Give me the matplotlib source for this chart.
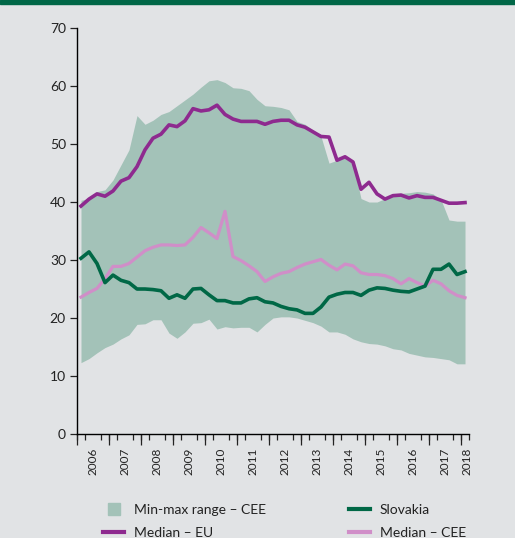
import matplotlib
matplotlib.use("Agg")
import matplotlib.pyplot as plt
from matplotlib.lines import Line2D
from matplotlib.patches import Rectangle
import numpy as np

plt.rcParams['font.family'] = ['Lato', 'DejaVu Sans']

# Quarterly data 2006Q1 .. 2018Q1
quarters = np.arange(49)
years = list(range(2006, 2019))

cee_max = [40.3, 40.6, 41.8, 42.1, 43.8, 46.4, 49.0, 54.9, 53.4, 54.1, 55.1, 55.6, 56.6,
           57.6, 58.6, 59.8, 60.9, 61.1, 60.6, 59.7, 59.6, 59.2, 57.7, 56.6, 56.5,
           56.3, 55.9, 53.9, 53.4, 52.4, 51.3, 46.7, 47.2, 47.8, 46.7, 40.6, 40.0,
           40.0, 40.6, 41.4, 41.5, 41.6, 41.8, 41.7, 41.4, 40.4, 36.9, 36.7, 36.7]
cee_min = [12.3, 13.0, 14.0, 14.9, 15.5, 16.4, 17.1, 18.9, 19.0, 19.7, 19.7, 17.4, 16.5,
           17.6, 19.1, 19.2, 19.8, 18.1, 18.5, 18.3, 18.4, 18.4, 17.6, 18.9, 20.0,
           20.2, 20.2, 20.0, 19.6, 19.2, 18.6, 17.6, 17.6, 17.2, 16.4, 15.9, 15.6,
           15.5, 15.2, 14.7, 14.5, 13.9, 13.6, 13.3, 13.2, 13.0, 12.8, 12.1, 12.1]
median_eu = [39.3, 40.5, 41.4, 41.0, 41.9, 43.6, 44.2, 46.1, 49.0, 51.0, 51.7, 53.3, 53.0,
             54.0, 56.1, 55.7, 55.9, 56.7, 55.1, 54.3, 53.9, 53.9, 53.9, 53.4, 53.9,
             54.1, 54.1, 53.3, 52.9, 52.1, 51.3, 51.2, 47.2, 47.8, 46.9, 42.2, 43.4,
             41.4, 40.5, 41.1, 41.2, 40.7, 41.1, 40.8, 40.8, 40.3, 39.8, 39.8, 39.9]
slovakia = [30.3, 31.4, 29.4, 26.1, 27.4, 26.5, 26.1, 25.0, 25.0, 24.9, 24.7, 23.4, 24.0,
            23.4, 25.0, 25.1, 24.0, 23.0, 23.0, 22.6, 22.6, 23.3, 23.5, 22.8, 22.6,
            22.0, 21.6, 21.4, 20.8, 20.8, 21.9, 23.6, 24.1, 24.4, 24.4, 23.9, 24.8,
            25.2, 25.1, 24.8, 24.6, 24.5, 25.0, 25.5, 28.4, 28.4, 29.3, 27.5, 28.0]
median_cee = [23.6, 24.4, 25.1, 26.8, 28.9, 28.9, 29.4, 30.5, 31.6, 32.2, 32.6, 32.6, 32.5,
              32.6, 33.9, 35.6, 34.7, 33.7, 38.4, 30.6, 29.9, 29.0, 28.0, 26.3, 27.1,
              27.7, 28.0, 28.7, 29.3, 29.7, 30.1, 29.1, 28.3, 29.3, 29.0, 27.8, 27.5,
              27.5, 27.3, 26.8, 25.9, 26.8, 26.1, 25.5, 26.5, 25.9, 24.7, 23.9, 23.5]

labels = ["Min-max range \u2013 CEE", "Median \u2013 EU", "Slovakia", "Median \u2013 CEE"]

BG = '#e1e3e5'
BAND = '#a3c2b8'
PURPLE = '#8e2a8f'
GREEN = '#006846'
PINK = '#d08ec8'

fig = plt.figure(figsize=(5.15, 5.38), dpi=100, facecolor=BG)
ax = fig.add_axes([0.1495, 0.1933, 0.7612, 0.7546])
ax.set_facecolor(BG)

ax.fill_between(quarters, cee_min, cee_max, color=BAND, linewidth=0, zorder=1)
ax.plot(quarters, median_eu, color=PURPLE, lw=2.6, zorder=3, solid_joinstyle='round')
ax.plot(quarters, slovakia, color=GREEN, lw=2.6, zorder=3, solid_joinstyle='round')
ax.plot(quarters, median_cee, color=PINK, lw=2.3, zorder=2, solid_joinstyle='round')

ax.set_xlim(-0.5, 48.5)
ax.set_ylim(0, 70)
for s in ['top', 'right']:
    ax.spines[s].set_visible(False)
ax.spines['left'].set_linewidth(1.0)
ax.spines['bottom'].set_linewidth(1.0)

ax.set_yticks(np.arange(0, 71, 10))
ax.tick_params(axis='y', direction='out', length=5, width=0.9, labelsize=10, pad=3,
               colors='#222222')

# year labels at year midpoints
label_pos = [1.5 + 4 * k for k in range(12)] + [48.3]
ax.set_xticks(label_pos)
ax.set_xticklabels([str(y) for y in years], rotation=90, fontsize=8.5, color='#222222')
ax.tick_params(axis='x', which='major', length=0, pad=10)
ax.set_xticks(np.arange(-0.5, 48.6, 1.0), minor=True)
ax.tick_params(axis='x', which='minor', direction='out', length=4.5, width=0.9, color='#222222')

sec = ax.secondary_xaxis('bottom')
sec.set_xticks(np.arange(-0.5, 48, 4.0))
sec.set_xticklabels([])
sec.tick_params(direction='out', length=8, width=0.9, color='#222222')
sec.spines['bottom'].set_visible(False)

# top bar
fig.patches.append(Rectangle((0, 1 - 4 / 538), 1, 4 / 538, transform=fig.transFigure,
                             color='#006747', zorder=5))

handles = [Line2D([], [], marker='s', ms=8, ls='none', color=BAND),
           Line2D([], [], color=PURPLE, lw=3),
           Line2D([], [], color=GREEN, lw=3),
           Line2D([], [], color=PINK, lw=3)]
fig.legend(handles, labels, loc='lower left', bbox_to_anchor=(0.179, -0.022), ncol=2,
           frameon=False, fontsize=10, handlelength=1.5, handletextpad=0.7,
           columnspacing=6.0, labelspacing=0.78, borderpad=0.3, labelcolor='#222222')

fig.savefig('out.png', dpi=100, facecolor=BG)
